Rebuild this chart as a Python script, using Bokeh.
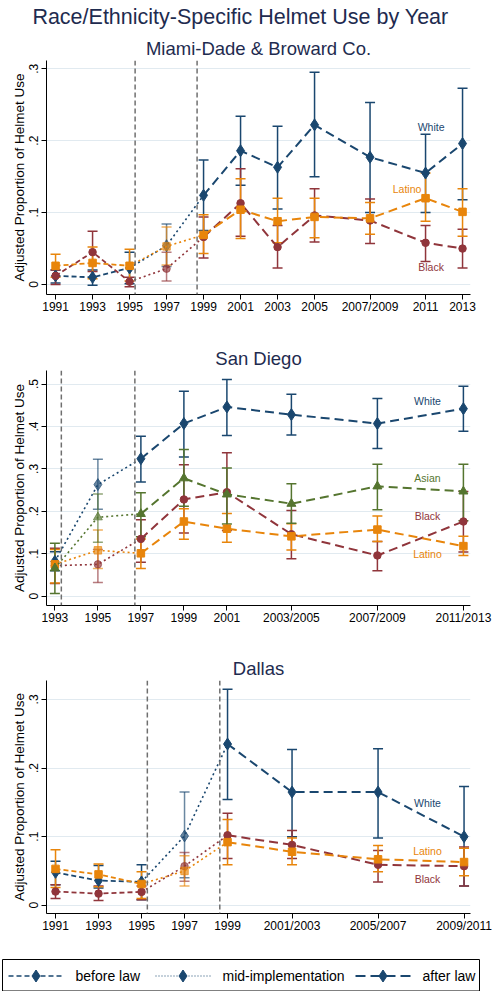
from bokeh.plotting import figure
from bokeh.models import (Range1d, FixedTicker, Whisker, TeeHead, ColumnDataSource, Span, Label)
from bokeh.layouts import column
from bokeh.embed import file_html
from bokeh.resources import INLINE
from bokeh.core.properties import value

# ---------------- data ----------------
main_title = "Race/Ethnicity-Specific Helmet Use by Year"
y_axis_title = "Adjusted Proportion of Helmet Use"

# Miami-Dade & Broward Co.
mia_title = "Miami-Dade & Broward Co."
mia_years = [1991, 1993, 1995, 1997, 1999, 2001, 2003, 2005, 2008, 2011, 2013]
mia_tick_labels = ["1991", "1993", "1995", "1997", "1999", "2001", "2003", "2005", "2007/2009", "2011", "2013"]
mia_white = [0.012, 0.010, 0.023, 0.054, 0.124, 0.186, 0.163, 0.222, 0.177, 0.155, 0.196]
mia_white_lo = [0.002, -0.001, 0.001, 0.025, 0.075, 0.138, 0.105, 0.150, 0.100, 0.100, 0.118]
mia_white_hi = [0.020, 0.020, 0.045, 0.084, 0.173, 0.234, 0.220, 0.295, 0.253, 0.209, 0.273]
mia_latino = [0.026, 0.030, 0.026, 0.053, 0.069, 0.104, 0.088, 0.094, 0.092, 0.120, 0.101]
mia_latino_lo = [0.010, 0.008, 0.005, 0.027, 0.043, 0.064, 0.058, 0.065, 0.070, 0.088, 0.067]
mia_latino_hi = [0.042, 0.052, 0.049, 0.080, 0.097, 0.147, 0.120, 0.120, 0.114, 0.155, 0.133]
mia_black = [0.012, 0.045, 0.004, 0.022, 0.066, 0.113, 0.052, 0.096, 0.089, 0.058, 0.050]
mia_black_lo = [0.000, 0.018, -0.003, 0.005, 0.037, 0.067, 0.023, 0.059, 0.057, 0.032, 0.023]
mia_black_hi = [0.020, 0.074, 0.010, 0.045, 0.094, 0.161, 0.082, 0.133, 0.119, 0.082, 0.077]
mia_law_dates = [1995.3, 1998.65]
mia_last_before, mia_first_after = 2, 4

# San Diego
sd_title = "San Diego"
sd_years = [1993, 1995, 1997, 1999, 2001, 2004, 2008, 2012]
sd_tick_labels = ["1993", "1995", "1997", "1999", "2001", "2003/2005", "2007/2009", "2011/2013"]
sd_white = [0.082, 0.263, 0.324, 0.407, 0.446, 0.428, 0.407, 0.442]
sd_white_lo = [0.060, 0.205, 0.269, 0.328, 0.379, 0.380, 0.348, 0.389]
sd_white_hi = [0.105, 0.323, 0.377, 0.483, 0.511, 0.476, 0.466, 0.495]
sd_asian = [0.066, 0.186, 0.194, 0.278, 0.240, 0.218, 0.259, 0.247]
sd_asian_lo = [0.006, 0.127, 0.140, 0.212, 0.170, 0.172, 0.204, 0.178]
sd_asian_hi = [0.125, 0.241, 0.244, 0.346, 0.302, 0.265, 0.311, 0.311]
sd_black = [0.072, 0.075, 0.135, 0.228, 0.245, 0.146, 0.096, 0.176]
sd_black_lo = [0.030, 0.032, 0.080, 0.149, 0.155, 0.088, 0.060, 0.104]
sd_black_hi = [0.113, 0.110, 0.180, 0.310, 0.338, 0.202, 0.129, 0.247]
sd_latino = [0.075, 0.108, 0.101, 0.176, 0.159, 0.141, 0.157, 0.118]
sd_latino_lo = [0.031, 0.065, 0.065, 0.134, 0.127, 0.109, 0.129, 0.096]
sd_latino_hi = [0.110, 0.156, 0.135, 0.206, 0.195, 0.171, 0.189, 0.141]
sd_law_dates = [1993.3, 1996.72]
sd_last_before, sd_first_after = 0, 2

# Dallas
dal_title = "Dallas"
dal_years = [1991, 1993, 1995, 1997, 1999, 2002, 2006, 2010]
dal_tick_labels = ["1991", "1993", "1995", "1997", "1999", "2001/2003", "2005/2007", "2009/2011"]
dal_white = [0.048, 0.036, 0.034, 0.101, 0.235, 0.165, 0.165, 0.100]
dal_white_lo = [0.030, 0.025, 0.008, 0.040, 0.154, 0.100, 0.098, 0.028]
dal_white_hi = [0.064, 0.058, 0.059, 0.165, 0.315, 0.227, 0.228, 0.173]
dal_latino = [0.053, 0.045, 0.031, 0.050, 0.092, 0.078, 0.067, 0.063]
dal_latino_lo = [0.026, 0.027, 0.010, 0.028, 0.059, 0.059, 0.049, 0.043]
dal_latino_hi = [0.081, 0.060, 0.049, 0.072, 0.125, 0.098, 0.087, 0.083]
dal_black = [0.020, 0.017, 0.0195, 0.057, 0.102, 0.088, 0.059, 0.057]
dal_black_lo = [0.010, 0.007, 0.008, 0.035, 0.068, 0.068, 0.034, 0.028]
dal_black_hi = [0.030, 0.028, 0.028, 0.077, 0.134, 0.109, 0.080, 0.085]
dal_law_dates = [1995.27, 1998.64]
dal_last_before, dal_first_after = 2, 4

legend_labels = ["before law", "mid-implementation", "after law"]

# ---------------- style ----------------
FONT = "Liberation Sans"
TITLE_COLOR = "#1e2b4f"
COL = {"White": "#1a476f", "Black": "#90353b", "Latino": "#e8850b", "Asian": "#55752f"}
MARK = {"White": "diamond", "Black": "circle", "Latino": "square", "Asian": "triangle"}
MSIZE = {"White": 12, "Black": 7.5, "Latino": 7.5, "Asian": 9}
DASH_BEFORE = "5 3"
DASH_MID = "2 3"
DASH_AFTER = "9 5"
MID_ALPHA = 0.65

W = 493
FL = 46
FW = 424


def make_panel(title, years, ticklabels, series, laws, last_before, first_after,
               x_rng, y_rng, y_ticks, y_ticklabels, h, top, fh, title_standoff):
    p = figure(width=W, height=h, x_range=Range1d(*x_rng), y_range=Range1d(*y_rng),
               output_backend="svg", toolbar_location=None,
               min_border_left=FL, min_border_right=W - FL - FW,
               min_border_top=top, min_border_bottom=h - top - fh)
    p.outline_line_color = None
    p.background_fill_color = "white"
    p.border_fill_color = "white"
    p.title.text = title
    p.title.align = "center"
    p.title.text_font = FONT
    p.title.text_font_size = "18.5px"
    p.title.text_font_style = "normal"
    p.title.text_color = TITLE_COLOR
    p.title.standoff = title_standoff
    p.xgrid.visible = False
    p.ygrid.ticker = FixedTicker(ticks=y_ticks)
    p.ygrid.grid_line_color = "#e1eaf0"
    p.ygrid.grid_line_width = 1.2

    for ax in (p.xaxis, p.yaxis):
        ax.axis_line_color = "black"
        ax.axis_line_width = 1
        ax.major_tick_line_color = "black"
        ax.major_tick_in = 0
        ax.major_tick_out = 5
        ax.minor_tick_line_color = None
        ax.major_label_text_font = FONT
        ax.major_label_text_font_size = "12px"
        ax.major_label_text_color = "black"
    p.xaxis.ticker = FixedTicker(ticks=years)
    p.xaxis.major_label_overrides = {y: l for y, l in zip(years, ticklabels)}
    p.xaxis.major_label_standoff = 0
    p.yaxis.ticker = FixedTicker(ticks=y_ticks)
    p.yaxis.major_label_overrides = {t: l for t, l in zip(y_ticks, y_ticklabels)}
    p.yaxis.major_label_orientation = "vertical"
    p.yaxis.major_label_standoff = 3
    p.yaxis.axis_label = y_axis_title
    p.yaxis.axis_label_text_font = FONT
    p.yaxis.axis_label_text_font_size = "13.5px"
    p.yaxis.axis_label_text_font_style = "normal"
    p.yaxis.axis_label_text_color = "black"
    p.yaxis.axis_label_standoff = 0

    for loc in laws:
        p.add_layout(Span(location=loc, dimension="height", line_color="#6f6f6f",
                          line_dash="5 3", line_width=1.5))

    for name, vals, lo, hi, lab_xy in series:
        c = COL[name]
        p.line(years[:last_before + 1], vals[:last_before + 1], line_color=c,
               line_dash=DASH_BEFORE, line_width=1.8)
        p.line(years[last_before:first_after + 1], vals[last_before:first_after + 1],
               line_color=c, line_dash=DASH_MID, line_width=1.6)
        p.line(years[first_after:], vals[first_after:], line_color=c,
               line_dash=DASH_AFTER, line_width=2)
        for idxs, alpha in ((list(range(0, last_before + 1)) + list(range(first_after, len(years))), 1.0),
                            (list(range(last_before + 1, first_after)), MID_ALPHA)):
            if not idxs:
                continue
            src = ColumnDataSource(dict(x=[years[i] for i in idxs], y=[vals[i] for i in idxs],
                                        lo=[lo[i] for i in idxs], hi=[hi[i] for i in idxs]))
            head = dict(size=10, line_color=c, line_width=1.5, line_alpha=alpha)
            p.add_layout(Whisker(base="x", upper="hi", lower="lo", source=src, dimension="height",
                                 line_color=c, line_width=1.5, line_alpha=alpha,
                                 upper_head=TeeHead(**head), lower_head=TeeHead(**head)))
            p.scatter("x", "y", source=src, marker=MARK[name], size=MSIZE[name],
                      fill_color=c, line_color=c, fill_alpha=alpha, line_alpha=alpha)
        p.add_layout(Label(x=lab_xy[0], y=lab_xy[1], text=name, text_color=c,
                           text_font=FONT, text_font_size="10.5px",
                           text_align="center", text_baseline="middle"))
    return p


def pixel_figure(h):
    f = figure(width=W, height=h, x_range=Range1d(0, W), y_range=Range1d(0, h),
               output_backend="svg", toolbar_location=None, min_border=0,
               x_axis_location=None, y_axis_location=None)
    f.frame_align = False
    f.grid.visible = False
    f.outline_line_color = None
    return f


# main title strip
TH = 30
tf = pixel_figure(TH)
tf.text(x=[240], y=[TH - 16], text=[main_title], text_font=value(FONT), text_font_size="21.5px",
        text_align="center", text_baseline="alphabetic", text_color=TITLE_COLOR)

p1 = make_panel(mia_title, mia_years, mia_tick_labels,
                [("White", mia_white, mia_white_lo, mia_white_hi, (2011.3, 0.219)),
                 ("Black", mia_black, mia_black_lo, mia_black_hi, (2011.3, 0.024)),
                 ("Latino", mia_latino, mia_latino_lo, mia_latino_hi, (2010.0, 0.1335))],
                mia_law_dates, mia_last_before, mia_first_after,
                (1990.51, 2013.43), (-0.0139, 0.3115), [0, 0.1, 0.2, 0.3], ["0", ".1", ".2", ".3"],
                h=290, top=30, fh=234, title_standoff=3)

p2 = make_panel(sd_title, sd_years, sd_tick_labels,
                [("White", sd_white, sd_white_lo, sd_white_hi, (2010.33, 0.459)),
                 ("Black", sd_black, sd_black_lo, sd_black_hi, (2010.33, 0.189)),
                 ("Latino", sd_latino, sd_latino_lo, sd_latino_hi, (2010.33, 0.100)),
                 ("Asian", sd_asian, sd_asian_lo, sd_asian_hi, (2010.33, 0.279))],
                sd_law_dates, sd_last_before, sd_first_after,
                (1992.61, 2012.33), (-0.022, 0.532), [0, 0.1, 0.2, 0.3, 0.4, 0.5],
                ["0", ".1", ".2", ".3", ".4", ".5"],
                h=315, top=50, fh=235, title_standoff=3)

p3 = make_panel(dal_title, dal_years, dal_tick_labels,
                [("White", dal_white, dal_white_lo, dal_white_hi, (2008.3, 0.1495)),
                 ("Black", dal_black, dal_black_lo, dal_black_hi, (2008.3, 0.0388)),
                 ("Latino", dal_latino, dal_latino_lo, dal_latino_hi, (2008.3, 0.0794))],
                dal_law_dates, dal_last_before, dal_first_after,
                (1990.58, 2010.3), (-0.012, 0.3276), [0, 0.1, 0.2, 0.3], ["0", ".1", ".2", ".3"],
                h=300, top=45, fh=234, title_standoff=3)

# legend strip, drawn in pixel coordinates
LH = 56
lg = pixel_figure(LH)
lg.quad(left=[2], right=[479], bottom=[0.5], top=[32], fill_color=None,
        line_color="black", line_width=1)
ly = 15.5
navy = COL["White"]
for (x0, x1, xt), dash, lw, lab in zip([(8, 63, 75), (155, 210, 222), (355, 410, 422)],
                                       [DASH_BEFORE, "1 2", "10 5"], [1.5, 1.2, 1.8],
                                       legend_labels):
    lg.line([x0, x1], [ly, ly], line_color=navy, line_dash=dash, line_width=lw)
    lg.scatter([(x0 + x1) / 2], [ly], marker="diamond", size=12, fill_color=navy, line_color=navy)
    lg.text(x=[xt], y=[ly], text=[lab], text_font=value(FONT), text_font_size="14px",
            text_baseline="middle", text_align="left", text_color="black")

layout = column(tf, p1, p2, p3, lg, spacing=0)
open("out.html", "w").write(file_html(layout, INLINE))
